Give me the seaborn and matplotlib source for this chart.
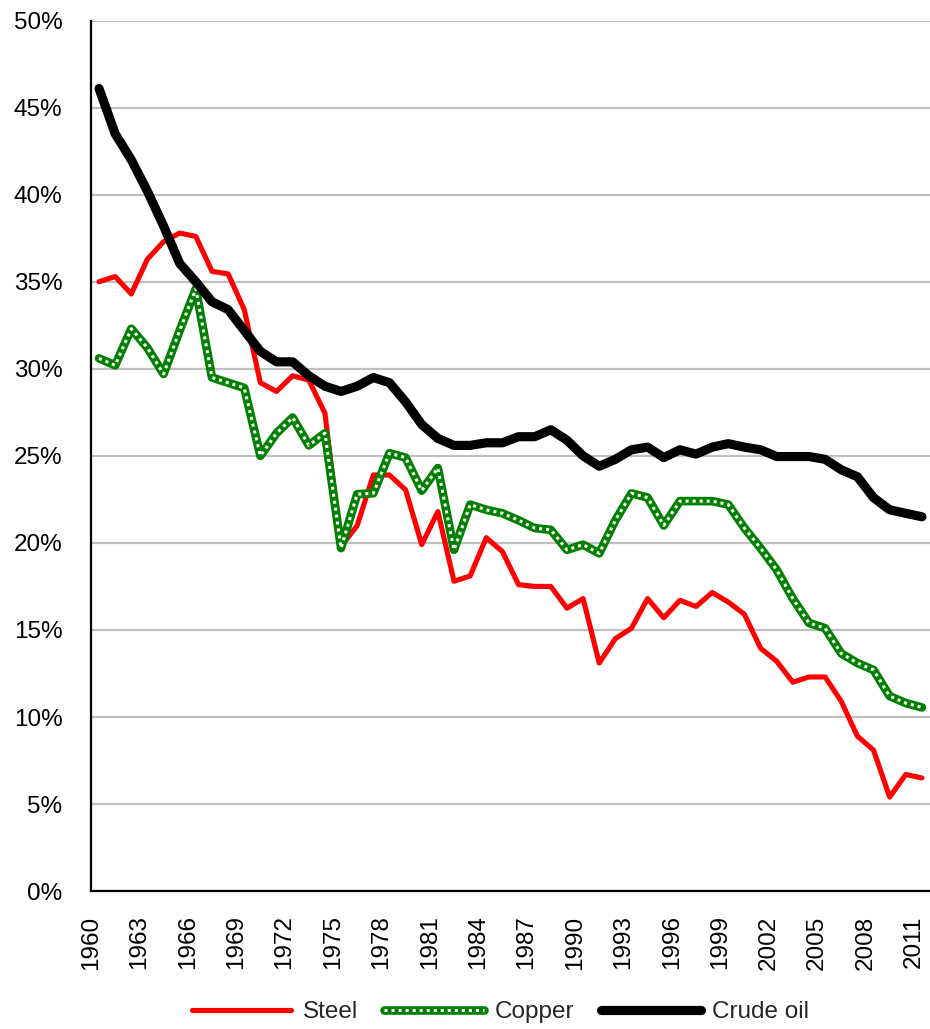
import pandas as pd
import matplotlib
matplotlib.use("Agg")
import matplotlib.pyplot as plt
import seaborn as sns
from matplotlib.ticker import PercentFormatter

# -----------------------------------------
# 1. DATA (shares in %)
# -----------------------------------------

years = list(range(1960, 2012))

steel = [35.0, 35.3, 34.3, 36.3, 37.3, 37.8, 37.6, 35.6, 35.45, 33.4,
         29.2, 28.7, 29.6, 29.35, 27.45, 19.8, 21.0, 23.9, 23.9, 23.05,
         19.9, 21.8, 17.8, 18.1, 20.3, 19.5, 17.6, 17.5, 17.5, 16.25,
         16.8, 13.1, 14.5, 15.1, 16.8, 15.7, 16.7, 16.35, 17.15, 16.6,
         15.9, 13.95, 13.2, 12.0, 12.3, 12.3, 10.9, 8.9, 8.1, 5.4,
         6.7, 6.5]

copper = [30.6, 30.2, 32.3, 31.2, 29.7, 32.2, 34.6, 29.5, 29.2, 28.9,
          25.0, 26.3, 27.2, 25.6, 26.3, 19.7, 22.8, 22.85, 25.15, 24.9,
          23.0, 24.3, 19.6, 22.2, 21.9, 21.7, 21.3, 20.85, 20.75, 19.6,
          19.9, 19.4, 21.3, 22.85, 22.6, 21.0, 22.4, 22.4, 22.4, 22.2,
          20.85, 19.7, 18.45, 16.8, 15.4, 15.1, 13.65, 13.1, 12.7, 11.2,
          10.8, 10.55]

crude_oil = [46.1, 43.5, 42.0, 40.2, 38.2, 36.05, 35.0, 33.85, 33.4, 32.2,
             31.0, 30.4, 30.4, 29.6, 29.0, 28.7, 29.0, 29.5, 29.2, 28.1,
             26.8, 26.0, 25.6, 25.6, 25.75, 25.75, 26.1, 26.1, 26.5, 25.9,
             25.0, 24.4, 24.8, 25.35, 25.5, 24.9, 25.35, 25.1, 25.5, 25.7,
             25.5, 25.35, 24.96, 24.96, 24.96, 24.8, 24.2, 23.8, 22.6, 21.9,
             21.7, 21.5]

df = pd.DataFrame({"Year": years, "Steel": steel,
                   "Copper": copper, "Crude oil": crude_oil})

# -----------------------------------------
# 2. STYLE
# -----------------------------------------

sns.set_style("white")
plt.rcParams["font.family"] = ["Liberation Sans", "DejaVu Sans"]
label_size = 17.5

fig = plt.figure(figsize=(9.30, 10.29), dpi=100)
ax = fig.add_axes([0.0978, 0.134, 0.9022, 0.846])

# -----------------------------------------
# 3. LINES
# -----------------------------------------

sns.lineplot(data=df, x="Year", y="Steel", ax=ax, color="#ff0000",
             linewidth=3.7)
sns.lineplot(data=df, x="Year", y="Copper", ax=ax, color="#008000",
             linewidth=6.2)
sns.lineplot(data=df, x="Year", y="Copper", ax=ax, color="white",
             linewidth=2.2, linestyle=(0, (1.0, 1.3)))
sns.lineplot(data=df, x="Year", y="Crude oil", ax=ax, color="black",
             linewidth=6.6)

steel_line, cu_line, cu_dots, oil_line = ax.lines[:4]

# -----------------------------------------
# 4. AXES
# -----------------------------------------

ax.set_xlim(1959.5, 2011.5)
ax.set_ylim(0, 50)
ax.set_yticks(range(0, 51, 5))
ax.yaxis.set_major_formatter(PercentFormatter(xmax=100, decimals=0))

tick_years = years[::3]
ax.set_xticks([y - 0.5 for y in tick_years])
ax.set_xticklabels([str(y) for y in tick_years], rotation=90)

ax.grid(axis="y", color="#c0c0c0", linewidth=1.6)
ax.set_axisbelow(True)
ax.set_xlabel("")
ax.set_ylabel("")

for side in ["top", "right"]:
    ax.spines[side].set_visible(False)
for side in ["left", "bottom"]:
    ax.spines[side].set_color("black")
    ax.spines[side].set_linewidth(1.6)

ax.tick_params(axis="both", which="major", direction="out", length=8.5,
               width=1.6, color="black", labelsize=label_size,
               labelcolor="black")
ax.tick_params(axis="y", pad=12)
ax.tick_params(axis="x", pad=9)

# -----------------------------------------
# 5. LEGEND
# -----------------------------------------

fig.legend([steel_line, (cu_line, cu_dots), oil_line],
           ["Steel", "Copper", "Crude oil"],
           loc="center", bbox_to_anchor=(0.538, 0.0165), ncol=3,
           frameon=False, fontsize=label_size, handlelength=4.1,
           handletextpad=0.45, columnspacing=1.1)

fig.savefig("out.png", dpi=100)
